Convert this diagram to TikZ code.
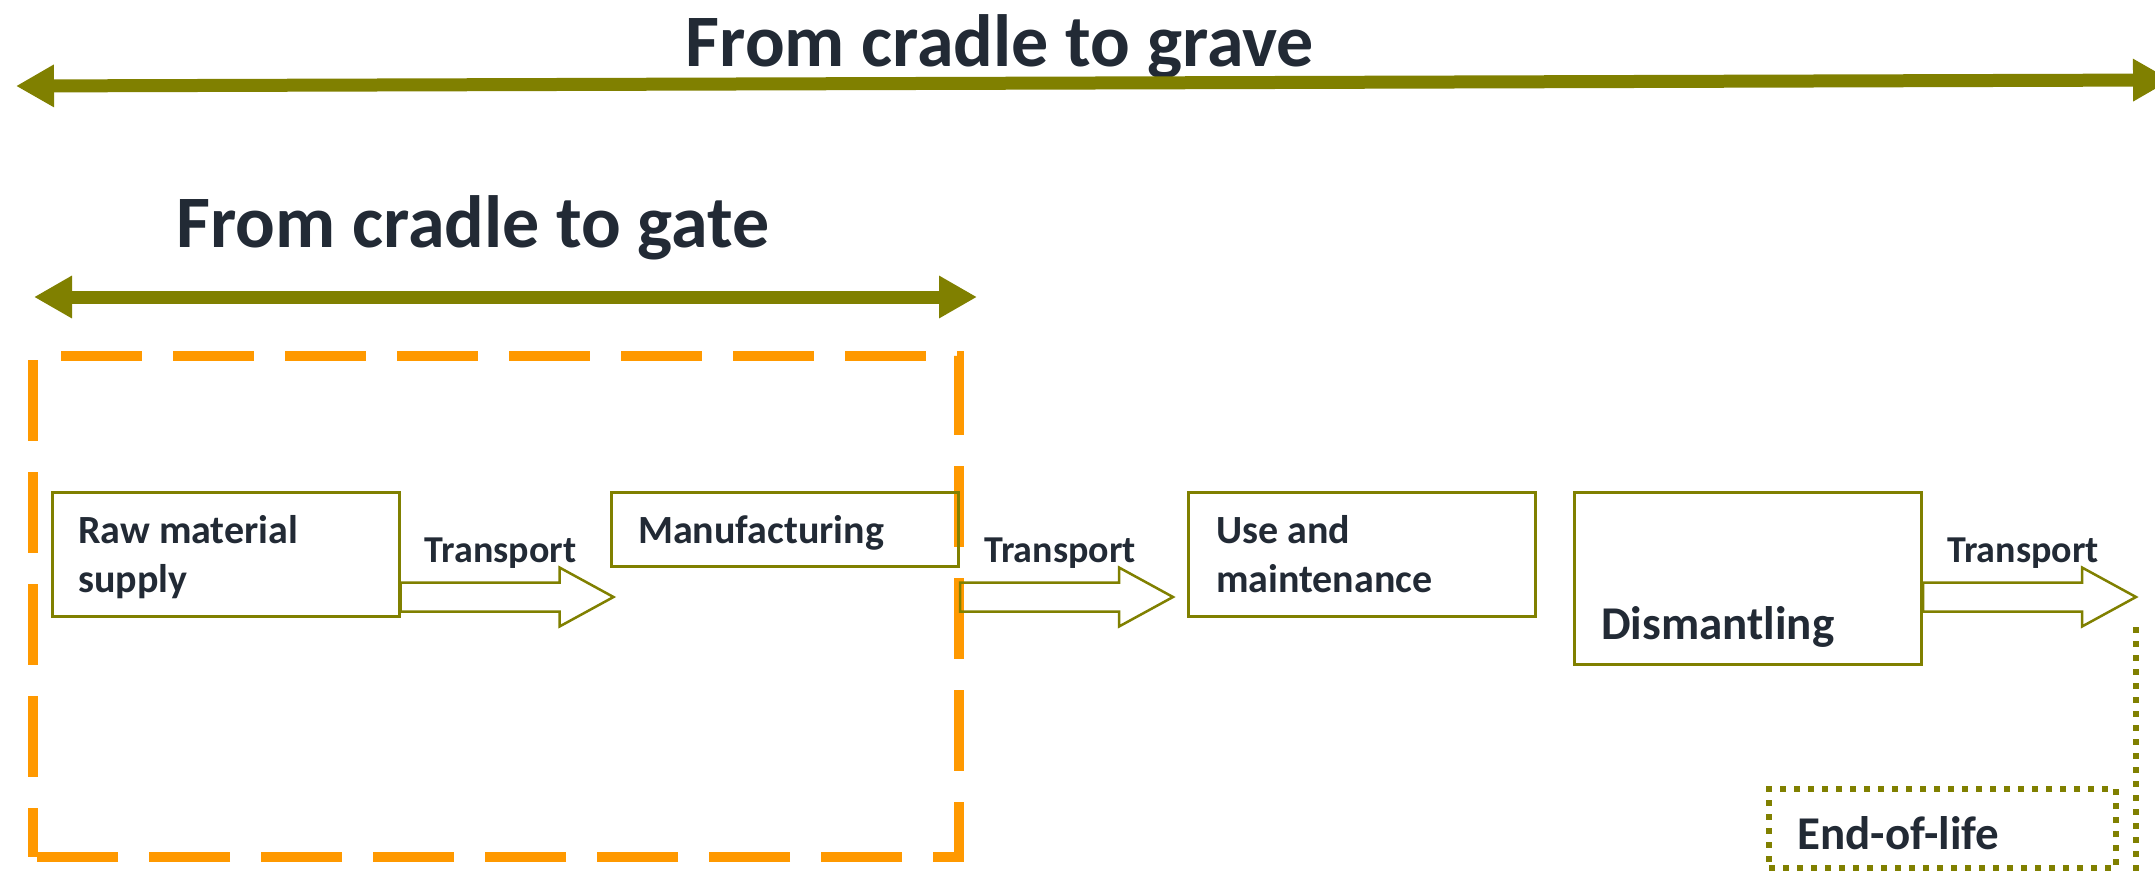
\documentclass[tikz,border=0pt]{standalone}
\usepackage{fontspec}
\setmainfont{Carlito}
\usetikzlibrary{arrows.meta,calc}
\definecolor{olivedrab}{HTML}{808000}
\definecolor{lcaorange}{HTML}{FF9900}
\definecolor{ink}{HTML}{222A35}

\begin{document}
\begin{tikzpicture}[x=1pt,y=-1pt,
  title/.style={font=\fontsize{74}{89}\selectfont\bfseries, text=ink, inner sep=0pt, anchor=base},
  boxtext/.style={font=\fontsize{40}{49}\selectfont\bfseries, text=ink, inner sep=0pt, anchor=base west},
  bigtext/.style={font=\fontsize{47}{57}\selectfont\bfseries, text=ink, inner sep=0pt, anchor=base west},
  translabel/.style={font=\fontsize{38}{46}\selectfont\bfseries, text=ink, inner sep=0pt, anchor=base},
  stagebox/.style={draw=olivedrab, line width=3pt, inner sep=0pt, minimum width=347pt},
  scopearrow/.style={draw=olivedrab, line width=13pt,
    {Triangle[length=38pt,width=40pt]}-{Triangle[length=38pt,width=40pt]}},
  gatebox/.style={draw=lcaorange, line width=10pt, line join=miter},
  eolbox/.style={draw=olivedrab, line width=6pt, dash pattern=on 6pt off 8pt, inner sep=0pt},
  blockarrow/.style={draw=olivedrab, line width=2.5pt, line join=miter,
    to path={let \p1=(\tikztostart), \p2=(\tikztotarget) in
      (\x1,\y1+14.5pt) -- (\x2-54pt,\y1+14.5pt) -- (\x2-54pt,\y1+29.5pt) -- (\x2,\y1)
      -- (\x2-54pt,\y1-29.5pt) -- (\x2-54pt,\y1-14.5pt) -- (\x1,\y1-14.5pt) -- cycle}}
]
\useasboundingbox (0,0) rectangle (2155,871);
\clip (0,0) rectangle (2155,871);

% system boundaries
\node[title] (grave) at (1000,66) {From cradle to grave};
\coordinate (graveL) at (16,86);
\coordinate (graveR) at (2171,80);
\draw[scopearrow] (graveL) -- (graveR);

\node[title] (gate) at (473,247) {From cradle to gate};
\coordinate (gateL) at (34,297);
\coordinate (gateR) at (977,297);
\draw[scopearrow] (gateL) -- (gateR);

% cradle-to-gate frame
\coordinate (fTL) at (33,356);
\coordinate (fTR) at (959,356);
\coordinate (fBR) at (959,857);
\coordinate (fBL) at (33,857);
\draw[gatebox, dash pattern=on 81pt off 31pt, dash phase=84pt] (fTL) -- (fTR) -- (fBR) -- (fBL);
\draw[gatebox, dash pattern=on 81pt off 31pt, dash phase=108pt] (fTL) -- (fBL);

% life-cycle stages
\node[stagebox, minimum height=124pt] (raw) at (225.5,554) {};
\node[boxtext] (raw1) at (78,543) {Raw material};
\node[boxtext] (raw2) at (78,592) {supply};

\node[stagebox, minimum height=74pt] (manu) at (785,529) {};
\node[boxtext] (manu1) at (638,543) {Manufacturing};

\node[stagebox, minimum height=124pt] (use) at (1362,554) {};
\node[boxtext] (use1) at (1216,543) {Use and};
\node[boxtext] (use2) at (1216,592) {maintenance};

\node[stagebox, minimum height=172pt] (dism) at (1748,578) {};
\node[bigtext] (dism1) at (1601,639) {Dismantling};

\node[eolbox, minimum width=347pt, minimum height=79pt] (eol) at (1942.5,828.5) {};
\node[bigtext] (eol1) at (1797,849) {End-of-life};

% transport steps
\coordinate (lane) at (0,597);
\coordinate (s1) at (raw.east |- lane);
\coordinate (s2) at (manu.east |- lane);
\coordinate (s3) at (dism.east |- lane);
\coordinate (t1) at ($(s1)+(213,0)$);
\coordinate (t2) at ($(s2)+(213,0)$);
\coordinate (t3) at ($(s3)+(213,0)$);
\draw[blockarrow] (s1) to (t1);
\draw[blockarrow] (s2) to (t2);
\draw[blockarrow] (s3) to (t3);
\node[translabel] (tr1) at ($(s1 |- 0,562)+(100,0)$) {Transport};
\node[translabel] (tr2) at ($(s2 |- 0,562)+(100,0)$) {Transport};
\node[translabel] (tr3) at ($(s3 |- 0,562)+(100,0)$) {Transport};

% end-of-life link
\coordinate (drop) at (t3 |- 0,627);
\coordinate (ground) at (t3 |- 0,880);
\draw[draw=olivedrab, line width=6pt, dash pattern=on 6pt off 8pt] (drop) -- (ground);
\end{tikzpicture}
\end{document}
